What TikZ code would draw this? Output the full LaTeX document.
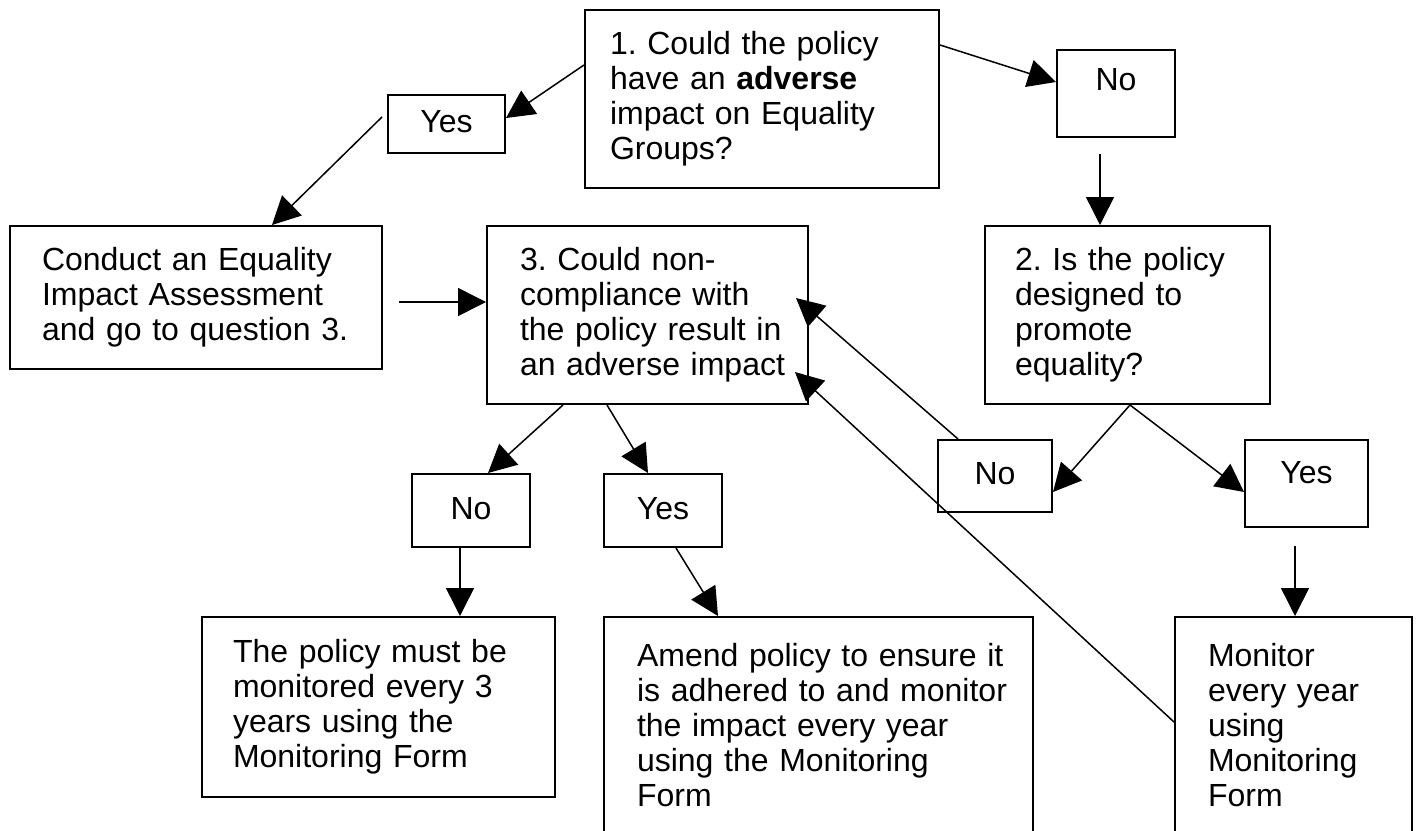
\documentclass[tikz,border=0pt]{standalone}
\usepackage{fontspec}
\setmainfont{Liberation Sans}
\usetikzlibrary{arrows.meta}
\newcommand\oneline[1]{\mbox{#1}}
\begin{document}
\begin{tikzpicture}[x=0.5pt,y=-0.5pt,
  box/.style={draw,line width=1pt,rectangle,inner ysep=0pt,font=\fontsize{16}{17.5}\selectfont\frenchspacing,align=left},
  ans/.style={draw,line width=1pt,rectangle,inner sep=0pt,text height=12pt,text depth=3.5pt,font=\fontsize{16}{17.5}\selectfont},
  arr/.style={line width=0.75pt,-{Triangle[length=14pt,width=14pt]}}]
\useasboundingbox (0,0) rectangle (1418,830);
\clip (0,0) rectangle (1418,830);
% question and action boxes
\node[box,minimum width=177pt,minimum height=89pt,inner xsep=12.5pt,text width=152pt] (q1) at (762,99)
  {\oneline{1. Could the policy}\\\oneline{have an \textbf{adverse}}\\\oneline{impact on Equality}\\\oneline{Groups?}};
\node[box,minimum width=186pt,minimum height=71.5pt,inner xsep=16pt,text width=154pt] (conduct) at (196,297.5)
  {\oneline{Conduct an Equality}\\\oneline{Impact Assessment}\\\oneline{and go to question 3.}};
\node[box,minimum width=160.5pt,minimum height=89pt,inner xsep=16.5pt,text width=127.5pt] (q3) at (647.5,315)
  {\oneline{3. Could non-}\\\oneline{compliance with}\\\oneline{the policy result in}\\\oneline{an adverse impact}};
\node[box,minimum width=142.5pt,minimum height=89pt,inner xsep=15pt,text width=112.5pt] (q2) at (1127.5,315)
  {\oneline{2. Is the policy}\\\oneline{designed to}\\\oneline{promote}\\\oneline{equality?}};
\node[box,minimum width=176.5pt,minimum height=90pt,inner xsep=15.5pt,text width=145.5pt] (mon3) at (378.5,707)
  {\oneline{The policy must be}\\\oneline{monitored every 3}\\\oneline{years using the}\\\oneline{Monitoring Form}};
\node[box,minimum width=214.5pt,minimum height=108pt,inner xsep=16.5pt,text width=181.5pt] (amend) at (818.5,725)
  {\oneline{Amend policy to ensure it}\\\oneline{is adhered to and monitor}\\\oneline{the impact every year}\\\oneline{using the Monitoring}\\\oneline{Form}};
\node[box,minimum width=118.5pt,minimum height=108pt,inner xsep=16.5pt,text width=85.5pt] (monitor) at (1293.5,725)
  {\oneline{Monitor}\\\oneline{every year}\\\oneline{using}\\\oneline{Monitoring}\\\oneline{Form}};
% answer boxes
\node[ans,minimum width=58.5pt,minimum height=29pt] (yes1) at (446.5,124) {Yes};
\node[ans,minimum width=59pt,minimum height=43.5pt,text depth=15pt] (no1) at (1116,93.5) {No};
\node[ans,minimum width=57pt,minimum height=36pt] (no2) at (995,476) {No};
\node[ans,minimum width=61.5pt,minimum height=43.5pt,text depth=12pt] (yes2) at (1306.5,483.5) {Yes};
\node[ans,minimum width=59pt,minimum height=36.5pt] (no3) at (471,510.5) {No};
\node[ans,minimum width=59pt,minimum height=36.5pt] (yes3) at (663,510.5) {Yes};
% connectors
\draw[arr] ([yshift=17pt]q1.west) -- ([yshift=3pt]yes1.east);
\draw[arr] ([xshift=-2.5pt,yshift=3.5pt]yes1.west) -- ([xshift=38pt]conduct.north);
\draw[arr] ([yshift=27pt]q1.east) -- ([yshift=5.75pt]no1.west);
\draw[arr] ([xshift=-8pt,yshift=-8pt]no1.south) -- ([xshift=-13.75pt]q2.north);
\draw[arr] ([xshift=8pt,yshift=-2.25pt]conduct.east) -- ([yshift=6.5pt]q3.west);
\draw[arr] ([xshift=-42.25pt]q3.south) -- ([xshift=8.5pt]no3.north);
\draw[arr] ([xshift=-20.25pt]q3.south) -- ([xshift=-7.5pt]yes3.north);
\draw[arr] ([xshift=-5.5pt]no3.south) -- ([xshift=40.75pt]mon3.north);
\draw[arr] ([xshift=6.5pt]yes3.south) -- ([xshift=-50.25pt]amend.north);
\draw[arr] ([xshift=1.25pt]q2.south) -- ([yshift=-8pt]no2.east);
\draw[arr] ([xshift=1.25pt]q2.south) -- ([yshift=-4.25pt]yes2.west);
\draw[arr] ([xshift=-5.75pt,yshift=-9pt]yes2.south) -- ([xshift=0.75pt]monitor.north);
\draw[arr] ([xshift=-18.5pt]no2.north) -- ([xshift=-6.5pt,yshift=8.5pt]q3.east);
\draw[arr] ([yshift=1.5pt]monitor.west) -- ([xshift=-7pt,yshift=-28.5pt]q3.east);
\end{tikzpicture}
\end{document}
